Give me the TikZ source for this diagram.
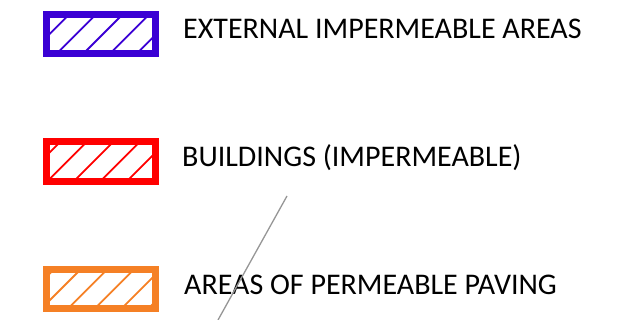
\documentclass[tikz,border=0pt]{standalone}
\usepackage{fontspec}
\setmainfont{Carlito}
\definecolor{legblue}{RGB}{58,0,212}
\definecolor{legred}{RGB}{255,0,0}
\definecolor{legorange}{RGB}{245,128,37}
\definecolor{leggray}{RGB}{150,150,150}
\tikzset{
  legbox/.style={rectangle, draw=#1, line width=7pt, minimum width=109pt,
    minimum height=39pt, inner sep=0pt},
  legtext/.style={anchor=base west, inner sep=0pt,
    font=\fontsize{30}{32}\selectfont},
  hatchline/.style={line width=1.8pt}
}
\newcommand{\myhatch}[3]{% color, offset, spacing
  \foreach \k in {-2,...,5}{
    \draw[hatchline,#1] ($(path picture bounding box.south west)+(#2+\k*#3,0)$) -- ++(45:90pt);
  }}
\usetikzlibrary{calc}
\begin{document}
\begin{tikzpicture}[x=1pt,y=-1pt]
\useasboundingbox (0,0) rectangle (630,320);
\node[legbox=legblue, path picture={\myhatch{legblue}{10.3}{26.7}}] (b1) at (101,34) {};
\node[legbox=legred, minimum height=40pt, path picture={\myhatch{legred}{0.7}{26.5}}] (b2) at (101,161.5) {};
\node[legbox=legorange, path picture={\myhatch{legorange}{21.7}{26.7}}] (b3) at (101,289) {};
\node[legtext] (t1) at (183,38.5) {EXTERNAL IMPERMEABLE AREAS};
\node[legtext] (t2) at (182,166.5) {BUILDINGS (IMPERMEABLE)};
\node[legtext] (t3) at (184,294.5) {AREAS OF PERMEABLE PAVING};
\coordinate (g1) at (287,196);
\coordinate (g2) at (218,320);
\draw[leggray, line width=1.3pt] (g1) -- (g2);
\end{tikzpicture}
\end{document}
